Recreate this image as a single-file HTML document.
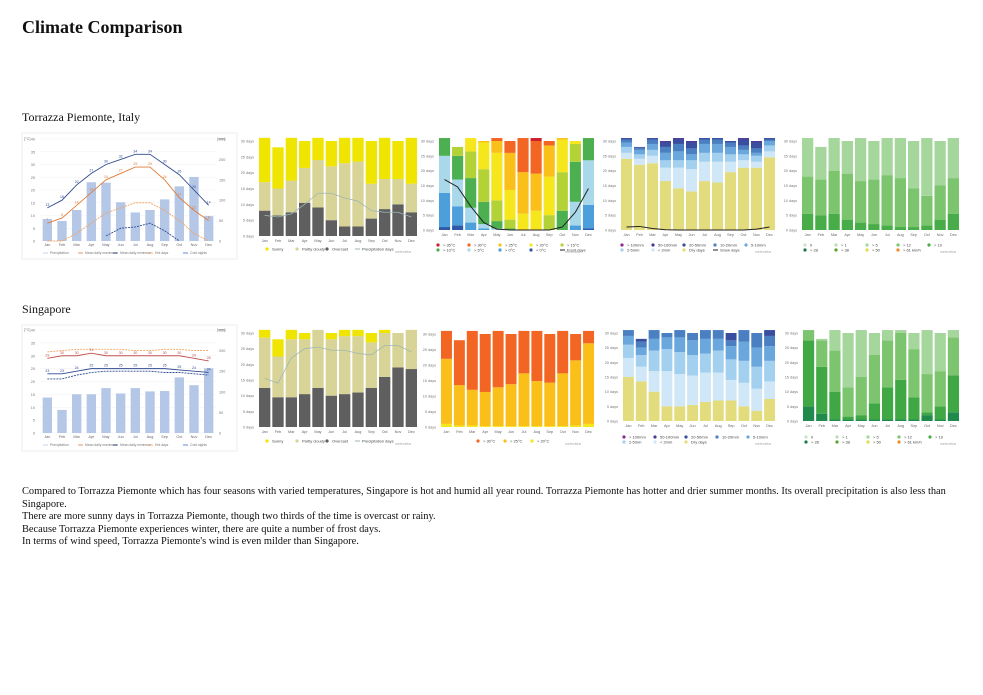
<!DOCTYPE html>
<html><head><meta charset="utf-8"><style>
body{margin:0;background:#fff;width:983px;height:695px;overflow:hidden;position:relative;font-family:"Liberation Serif",serif}
.t{position:absolute;left:22px;color:#111}
#txt{position:absolute;left:22px;top:486px;font-size:10.4px;line-height:12.6px;color:#111;white-space:nowrap}
svg{position:absolute;left:0;top:0}
</style></head><body>
<div class="t" style="top:17px;font-size:18px;font-weight:bold">Climate Comparison</div>
<div class="t" style="top:110px;font-size:12px">Torrazza Piemonte, Italy</div>
<div class="t" style="top:302px;font-size:12px">Singapore</div>
<div id="txt">Compared to Torrazza Piemonte which has four seasons with varied temperatures, Singapore is hot and humid all year round. Torrazza Piemonte has hotter and drier summer months. Its overall precipitation is also less than<br>Singapore.<br>There are more sunny days in Torrazza Piemonte, though two thirds of the time is overcast or rainy.<br>Because Torrazza Piemonte experiences winter, there are quite a number of frost days.<br>In terms of wind speed, Torrazza Piemonte's wind is even milder than Singapore.</div>
<svg id="s" width="983" height="695" font-family="Liberation Sans, sans-serif"></svg>
<script>
const months=['Jan','Feb','Mar','Apr','May','Jun','Jul','Aug','Sep','Oct','Nov','Dec'];
// Torrazza climate
const tPrecip=[54,49,76,144,143,95,70,76,102,134,157,61];
const tMax=[13,16,22,26.5,30,32,34,34,30,26,20,14];
const tMin=[7,9,14,19,24,26.5,29,29,24,17,12,8];
const tHot=[0,0,3,7,11,13,15,15,12,8,3,0];
const tCold=[null,null,null,null,2,5,5.5,7,4,0,null,null];
// Singapore climate
const sPrecip=[86,56,94,94,109,96,109,101,102,135,116,157];
const sHot=[31.5,32,32.5,32.5,32.5,32.5,32,32,32.5,32.5,32,32];
const sMax=[29,30,30,31,30,30,30,30,30,30,29,28];
const sMin=[23,23,24,25,25,25,25,25,25,24.5,24,23.5];
const sCold=[21,21,22.5,23.5,24,24,24,24,23.5,23.5,23,22.5];
// cloud (bottom->top)
const tOvercast=[8,6.5,7.5,10.5,9,5,3,3,5.5,8.5,10,7.5];
const tPartly=[9,8.5,10,11,15,17,20,20.5,11,9.5,8,9];
const tSunny=[14,13,13.5,8.5,7,8,8,7.5,13.5,13,12,14.5];
const tPrecDays=[6.5,6,7,10,13.5,13.5,12,11,8,7.5,7.5,6];
const sOvercast=[12.5,9.5,9.5,10.5,12.5,10,10.5,11,12.5,16,19,18.5];
const sPartly=[16,13,18.5,17.5,18.5,18,18.5,18,14.5,14,11,12.5];
const sSunny=[2.5,5.5,3,2,0,2,2,2,3,1,0,0];
const sPrecDays=[15.5,14,22,25,25.5,24.5,24.5,23.5,23,26,26,24];
// temperature (bottom->top)
const tLt0=[1,1.5,0,0,0,0,0,0,0,0,0,0.5];
const tGt0=[11.5,6.5,2.5,0.5,0,0,0,0,0,0,1.5,8];
const tGt5=[12.5,9,5,1.5,0.5,0,0,0,0,0,8,15];
const tGt10=[6,8,10,7.5,2.5,0.5,0,0,0,6.5,13.5,7.5];
const tGt15=[0,3,9,11,7,3,0,0,5,13,6,0];
const tGt20=[0,0,4.5,9,16,10,5.5,6.5,13,11,1,0];
const tGt25=[0,0,0,0.5,4,12.5,14,12.5,10.5,0.5,0,0];
const tGt30=[0,0,0,0,1,4,11.5,11,1.5,0,0,0];
const tGt35=[0,0,0,0,0,0,0,1,0,0,0,0];
const tFrost=[17,14.5,8,2.5,0.3,0,0,0,0,1,6,14];
const sGt20=[1,0.5,0.5,0.3,0.3,0.3,0.3,0.3,0.3,0.3,0.5,1];
const sGt25=[21,13,11.5,11,12.5,13.5,17,14.5,14,17,21,26];
const sGt30=[9,14.5,19,18.7,18.2,16.2,13.7,16.2,15.7,13.7,8.5,4];
// precipitation (bottom->top)
const tDry=[24,22,22.5,16.5,14,13,16.5,16,19.5,21,21,24.5];
const tP2=[2,2,2.5,4.5,7,7.5,6.5,7,3.5,2.5,2,2];
const tP5=[2,1.5,2,2.5,2.5,3,3,3,2.5,2,2,2];
const tP10=[1.5,1.5,2,2.5,3,2,3,3,2.5,1.5,1,1.5];
const tP20=[1,0.7,1.5,2,2.5,2,1.5,1.5,1.5,1.5,1.5,0.5];
const tP50=[0.5,0.3,0.5,1.5,1.5,2,0.5,0.5,0.5,2,2,0.5];
const tP100=[0,0,0,0.5,0.5,0.5,0,0,0,0.5,0.5,0];
const tSnow=[1,1.2,0.5,0.1,0,0,0,0,0,0,0.3,1];
const sDry=[15,13.5,10,5,5,5.5,6.5,7,7,5,3.5,7.5];
const sP2=[6.5,5,7,12,11,10,10,9.5,7,8,7.5,6];
const sP5=[4.5,4,7,7.5,7.5,7,6.5,7.5,7,7.5,7.5,7];
const sP10=[3,2.5,4,4,5,5,5,4,4.5,6.5,6.5,5];
const sP20=[2,2,3,1.5,2.5,2.5,3,3,2,4,5,3.5];
const sP50=[0,1,0,0,0,0,0,0,2.5,0,0,2];
// wind (bottom->top)
const tW12=[5.5,5,5.5,3.5,2.5,2,1.5,1,1,1.5,3.5,5.5];
const tW5=[12.5,12,14.5,15.5,14,15,17,16.5,13,10,11.5,12];
const tW1=[13,11,11,11,14.5,13,12.5,13.5,16,19.5,15,13.5];
const sW19=[5,2.5,0.5,0.5,0.5,0.5,0.5,0.5,0.5,2,0.5,3];
const sW12=[22.5,16,9.5,1,1.5,5.5,11,13.5,7.5,1,4.5,12.5];
const sW5=[3.5,9,14,10,13,16.5,16,16,16.5,13,12,13];
const sW1=[0,0.5,7,18.5,16,7.5,3.5,1,5.5,15,13,2.5];
const dayTicks=[0,5,10,15,20,25,30];

const S=document.getElementById('s');const NS='http://www.w3.org/2000/svg';
function mk(t,a,p){const e=document.createElementNS(NS,t);for(const k in a)e.setAttribute(k,a[k]);(p||S).appendChild(e);return e;}
function txt(x,y,s,size,fill,anchor){const e=mk('text',{x:x,y:y,'font-size':size,fill:fill||'#666','text-anchor':anchor||'start'});e.textContent=s;return e;}
function bx(x0,x1,i){const b=(x1-x0)/12;return x0+b*i;}

function stacked(name,x0,x1,yb,yt,series,colors,line,lineColor){
  const g=mk('g',{});
  
  
  const b=(x1-x0)/12,w=b*0.85;
  const ys=v=>yb-v/30*(yb-yt);
  dayTicks.forEach(t=>{const l=txt(x0-4,ys(t)+1.5,t+' days',3.8,'#777','end');});
  for(let i=0;i<12;i++){
    let acc=0;
    series.forEach((arr,k)=>{const v=arr[i];if(!v)return;
      const r=mk('rect',{x:bx(x0,x1,i)+(b-w)/2,y:ys(acc+v),width:w,height:ys(acc)-ys(acc+v),fill:colors[k]},g);
      
      
      acc+=v;});
    const m=txt(bx(x0,x1,i)+b/2,yb+6,months[i],3.8,'#666','middle');
    
    
  }
  if(line){let d='';line.forEach((v,i)=>{d+=(i?'L':'M')+(bx(x0,x1,i)+b/2)+','+ys(v);});
    const p=mk('path',{d:d,fill:'none',stroke:lineColor,'stroke-width':lineColor=='#222'?1:0.8},g);
    
    }
}
function legend(items,x,y,dx,perRow,dy,name){
  items.forEach((it,i)=>{const cx=x+(i%perRow)*dx,cy=y+Math.floor(i/perRow)*dy;
    if(it[2])mk('line',{x1:cx-2,x2:cx+3,y1:cy,y2:cy,stroke:it[1],'stroke-width':1});
    else mk('circle',{cx:cx,cy:cy,r:1.6,fill:it[1]});
    const t=txt(cx+5,cy+1.5,it[0],4,'#444');
    
    });
}
function climate(name,oy,prec,lines,yb,yt){
  const box=mk('rect',{x:22,y:133+oy,width:215,height:126,fill:'#fff',stroke:'#e4e4e4','stroke-width':0.7});
  
  
  const x0=40,x1=216,b=(x1-x0)/12;
  const yT=v=>yb-v/40*(yb-yt), yP=v=>yb-v/250*(yb-yt);
  for(let t=0;t<=40;t+=5){mk('line',{x1:x0,x2:x1,y1:yT(t),y2:yT(t),stroke:'#eee','stroke-width':0.4});
    const l=txt(x0-5,yT(t)+1.5,t,3.8,'#777','end');}
  for(let t=0;t<=250;t+=50){const l=txt(x1+3,yP(t)+1.5,t,3.8,'#777');}
  txt(x0-16,yt+1,'[°C]',3.8,'#777');txt(x1+1,yt+1,'[mm]',3.8,'#777');
  prec.forEach((v,i)=>{const r=mk('rect',{x:x0+b*i+b*0.18,y:yP(v),width:b*0.64,height:yb-yP(v),fill:'#b4c7e7'});
    
    
    const m=txt(x0+b*i+b/2,yb+5,months[i],3.8,'#666','middle');});
  lines.forEach(L=>{let d='',st=false;L[0].forEach((v,i)=>{if(v===null){st=false;return;}d+=(st?'L':'M')+(x0+b*i+b/2)+','+yT(v);st=true;
      if(L[3])txt(x0+b*i+b/2,yT(v)-2,Math.round(v),3.5,L[1],'middle');});
    const p=mk('path',{d:d,fill:'none',stroke:L[1],'stroke-width':0.9,'stroke-dasharray':L[2]?'2,1':'none'});
    
    });
  const li=[['Precipitation','#b4c7e7'],['Mean daily maximum','#e07b39'],['Mean daily minimum','#2f4b8f'],['Hot days','#f4a460'],['Cold nights','#4472c4']];
  li.forEach((it,i)=>{const cx=43+i*35,cy=yb+12;mk('line',{x1:cx,x2:cx+5,y1:cy,y2:cy,stroke:it[1],'stroke-width':0.8});
    const t=txt(cx+7,cy+1.2,it[0],3.4,'#777');});
}
climate('torrazza-climate',0,tPrecip,[[tMax,'#2f4b8f',0,1],[tMin,'#e07b39',0,1],[tHot,'#f4a460',1,0],[tCold,'#2f4b8f',1,0]],241,139);
climate('singapore-climate',192,sPrecip,[[sHot,'#f4a460',1,0],[sMax,'#c0504d',0,1],[sMin,'#2f4b8f',0,1],[sCold,'#2f4b8f',1,0]],433,330);

const cloudC=['#5f5f5f','#d8d497','#efe500'];
stacked('torrazza-cloud-chart',258,418,236,141,[tOvercast,tPartly,tSunny],cloudC,tPrecDays,'#9fb7b5');
stacked('singapore-cloud-chart',258,418,427,333,[sOvercast,sPartly,sSunny],cloudC,sPrecDays,'#9fb7b5');
const cl=[['Sunny','#efe500'],['Partly cloudy','#d8d497'],['Overcast','#5f5f5f'],['Precipitation days','#9fb7b5',1]];
legend(cl,267,249,30,4,5,'legend-entry');legend(cl,267,441,30,4,5,'legend-entry');

const tempC=['#2e59a8','#4d9fdc','#a8d8ea','#4caf50','#b2d235','#f6e71c','#fbbf1a','#f26522','#cc1f2d'];
stacked('torrazza-temperature-chart',438,595,230,141,[tLt0,tGt0,tGt5,tGt10,tGt15,tGt20,tGt25,tGt30,tGt35],tempC,tFrost,'#222');
legend([['> 35°C','#cc1f2d'],['> 30°C','#f26522'],['> 25°C','#fbbf1a'],['> 20°C','#f6e71c'],['> 15°C','#b2d235'],['> 10°C','#4caf50'],['> 5°C','#a8d8ea'],['> 0°C','#4d9fdc'],['< 0°C','#2e59a8'],['Frost days','#222',1]],438,245,31,5,5,'legend-entry');
stacked('singapore-temperature-chart',440,595,427,334,[sGt20,sGt25,sGt30],['#f6e71c','#fbbf1a','#f26522'],null);
legend([['> 30°C','#f26522'],['> 25°C','#fbbf1a'],['> 20°C','#f6e71c']],478,441,27,3,5,'legend-entry');

const precC=['#e2dc7c','#cfe7f6','#a3d0ef','#6aa7dc','#4a7fc1','#3a4ea0','#4b3a96','#8a2a8a'];
const pl=[['> 100mm','#8a2a8a'],['50-100mm','#4b3a96'],['20-50mm','#3a4ea0'],['10-20mm','#4a7fc1'],['5-10mm','#6aa7dc'],['2-5mm','#a3d0ef'],['< 2mm','#cfe7f6'],['Dry days','#e2dc7c'],['Snow days','#222',1]];
stacked('torrazza-precipitation-chart',620,776,230,141,[tDry,tP2,tP5,tP10,tP20,tP50,tP100],precC,tSnow,'#222');
legend(pl,622,245,31,5,5,'legend-entry');
stacked('singapore-precipitation-chart',622,776,421,333,[sDry,sP2,sP5,sP10,sP20,sP50],precC,null);
legend(pl.slice(0,8),624,437,31,5,5,'legend-entry');

const wl=[['0','#c8e6c4'],['> 1','#b9dfb3'],['> 5','#a5d69c'],['> 12','#7cc46e'],['> 19','#48ad48'],['> 28','#16794a'],['> 38','#5aa02c'],['> 50','#e7d84a'],['> 61 km/h','#f08a24']];
stacked('torrazza-wind-chart',801,960,230,141,[tW12,tW5,tW1],['#48ad48','#7cc46e','#a5d69c'],null);
legend(wl,805,245,31,5,5,'legend-entry');
stacked('singapore-wind-chart',802,960,421,333,[sW19,sW12,sW5,sW1],['#1f8a4c','#3fa845','#7cc46e','#a5d69c'],null);
legend(wl,806,437,31,5,5,'legend-entry');
[[395,253],[565,253],[755,253],[940,253],[395,445],[565,445],[755,445],[940,445]].forEach(p=>{const t=txt(p[0],p[1],'meteoblue',3.5,'#aaa');});
</script>
</body></html>
